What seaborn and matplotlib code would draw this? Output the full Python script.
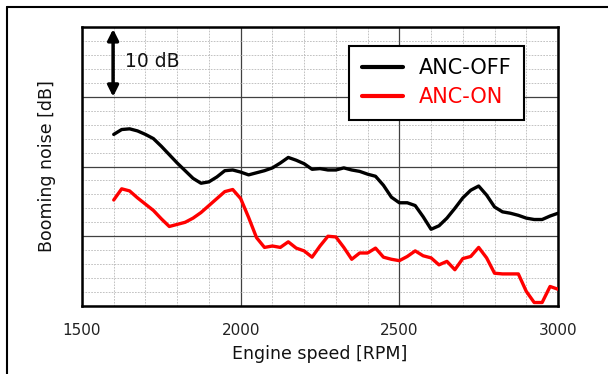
import numpy as np
import pandas as pd
import seaborn as sns
import matplotlib.pyplot as plt
from matplotlib.lines import Line2D
from matplotlib.ticker import MultipleLocator

# engine speed sampled every 25 RPM
rpm = np.arange(1600, 3001, 25)

# booming noise levels [dB], relative scale (axis is 0..40 dB)
anc_off = [24.6, 25.3, 25.4, 25.1, 24.6, 24.0, 22.9, 21.7, 20.5, 19.4,
           18.3, 17.6, 17.8, 18.5, 19.4, 19.5, 19.2, 18.8, 19.1, 19.4,
           19.8, 20.5, 21.3, 20.9, 20.4, 19.6, 19.7, 19.5, 19.5, 19.8,
           19.5, 19.3, 18.9, 18.6, 17.3, 15.6, 14.8, 14.8, 14.4, 12.8,
           11.0, 11.5, 12.6, 14.0, 15.5, 16.6, 17.2, 15.9, 14.2, 13.5,
           13.3, 13.0, 12.6, 12.4, 12.4, 12.9, 13.3]
anc_on = [15.2, 16.8, 16.5, 15.5, 14.6, 13.7, 12.5, 11.4, 11.7, 12.0,
          12.6, 13.4, 14.4, 15.4, 16.4, 16.7, 15.4, 12.7, 9.8, 8.4,
          8.6, 8.4, 9.2, 8.3, 7.9, 7.0, 8.6, 10.0, 9.9, 8.4,
          6.7, 7.6, 7.6, 8.3, 7.0, 6.7, 6.5, 7.1, 7.9, 7.2,
          6.9, 5.9, 6.4, 5.2, 6.8, 7.1, 8.4, 6.9, 4.7, 4.6,
          4.6, 4.6, 2.1, 0.5, 0.5, 2.8, 2.4]

series_names = ["ANC-OFF", "ANC-ON"]
colors = {"ANC-OFF": "black", "ANC-ON": "red"}

df = pd.concat([
    pd.DataFrame({"rpm": rpm, "dB": anc_off, "series": "ANC-OFF"}),
    pd.DataFrame({"rpm": rpm, "dB": anc_on, "series": "ANC-ON"}),
])

sns.set_style("white")
plt.rcParams["font.family"] = ["DejaVu Sans"]

fig = plt.figure(figsize=(6.08, 3.74), dpi=100)
ax = fig.add_axes([82 / 608, 1 - 306 / 374, 476 / 608, 279 / 374])

sns.lineplot(data=df, x="rpm", y="dB", hue="series", hue_order=series_names,
             palette=colors, linewidth=2.4, ax=ax, legend=True, zorder=3)

ax.set_xlim(1500, 3000)
ax.set_ylim(0, 40)
ax.xaxis.set_major_locator(MultipleLocator(500))
ax.xaxis.set_minor_locator(MultipleLocator(100))
ax.yaxis.set_major_locator(MultipleLocator(10))
ax.yaxis.set_minor_locator(MultipleLocator(2))

ax.grid(which="major", color="#404040", linewidth=0.9, linestyle="-")
ax.grid(which="minor", color="#b8b8b8", linewidth=0.6, linestyle=(0, (2, 1.5)))
ax.set_axisbelow(True)

ax.tick_params(axis="both", which="both", length=0)
ax.tick_params(axis="x", labelsize=11, pad=12, labelcolor="#222222")
ax.set_yticklabels([])
for s in ax.spines.values():
    s.set_color("black")
    s.set_linewidth(1.8)

ax.set_xlabel("Engine speed [RPM]", fontsize=12.5, labelpad=5, color="#111111")
ax.set_ylabel("Booming noise [dB]", fontsize=12.5, labelpad=15, color="#111111")

# 10 dB scale arrow
ax.annotate("", xy=(1598, 39.7), xytext=(1598, 30),
            arrowprops=dict(arrowstyle="<|-|>", color="black", lw=2.5,
                            mutation_scale=16, shrinkA=0, shrinkB=0), zorder=4)
ax.text(1637, 35, "10 dB", fontsize=13.5, va="center", ha="left", color="#111111")

leg = ax.legend(loc="upper left", bbox_to_anchor=(267 / 476, 1 - 19 / 279),
                fontsize=15, frameon=True, fancybox=False, handlelength=2.0,
                handletextpad=0.75, borderpad=0.6, labelspacing=0.42,
                borderaxespad=0)
leg.get_frame().set_edgecolor("black")
leg.get_frame().set_linewidth(1.5)
leg.get_frame().set_facecolor("white")
leg.get_frame().set_alpha(1)
for txt, name in zip(leg.get_texts(), series_names):
    txt.set_color(colors[name])
for h in leg.legend_handles:
    h.set_linewidth(3)

# outer frame (left and top edges)
fig.add_artist(Line2D([7 / 608, 7 / 608], [0, 1 - 7 / 374], color="black", lw=1.5,
                      transform=fig.transFigure))
fig.add_artist(Line2D([7 / 608, 1], [1 - 7 / 374, 1 - 7 / 374], color="black", lw=1.5,
                      transform=fig.transFigure))

fig.savefig("out.png", dpi=100)
